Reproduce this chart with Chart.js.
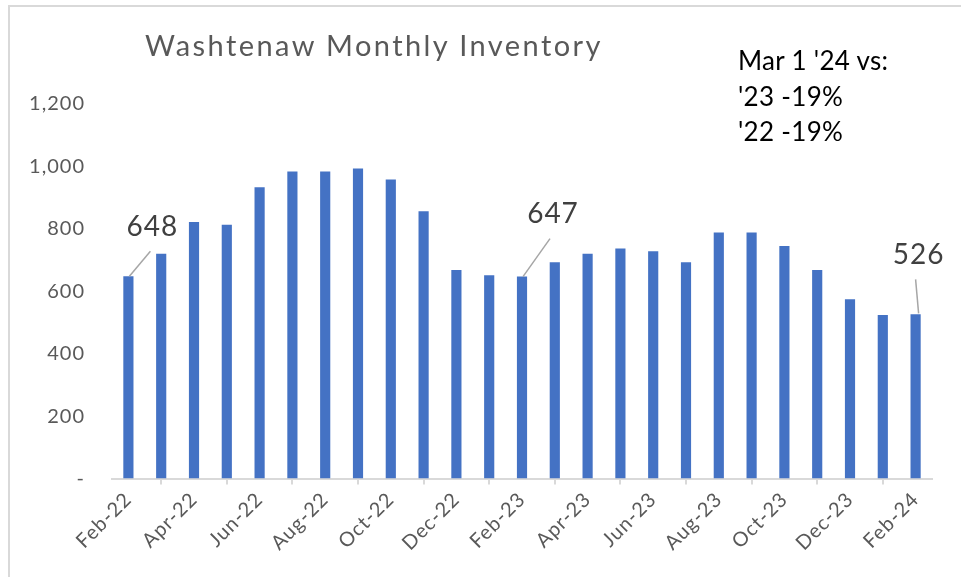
<!DOCTYPE html>
<html>
<head>
<meta charset="utf-8">
<script src="https://cdn.jsdelivr.net/npm/chart.js@4/dist/chart.umd.min.js"></script>
<style>
  html, body { margin: 0; padding: 0; background: #fff; }
  #wrap { position: relative; width: 961px; height: 577px; overflow: hidden; }
  #frame { position: absolute; left: 8px; top: 5px; width: 1000px; height: 700px;
           border-top: 2px solid #d9d9d9; border-left: 2px solid #d9d9d9; box-sizing: border-box; }
  canvas { position: absolute; left: 0; top: 0; }
  .txt { position: absolute; font-family: Lato, "Open Sans", sans-serif; white-space: nowrap; }
  #title { left: 145px; top: 27px; font-size: 29px; color: #595959; letter-spacing: 2.4px; }
  #note { left: 738px; top: 43px; font-size: 26px; color: #000; line-height: 35.5px; letter-spacing: 0.3px; }
</style>
</head>
<body>
<div id="wrap">
  <div id="frame"></div>
  <canvas id="c" width="961" height="577"></canvas>
  <div class="txt" id="title">Washtenaw Monthly Inventory</div>
  <div class="txt" id="note">Mar 1 '24 vs:<br>'23 -19%<br>'22 -19%</div>
</div>
<script>
const months = ["Feb-22","Mar-22","Apr-22","May-22","Jun-22","Jul-22","Aug-22","Sep-22","Oct-22","Nov-22","Dec-22","Jan-23",
                "Feb-23","Mar-23","Apr-23","May-23","Jun-23","Jul-23","Aug-23","Sep-23","Oct-23","Nov-23","Dec-23","Jan-24","Feb-24"];
const inventory = [648, 720, 822, 813, 933, 984, 984, 993, 958, 856, 668, 651,
                   647, 693, 720, 737, 728, 693, 788, 788, 745, 668, 574, 524, 526];
const yTicks = [0, 200, 400, 600, 800, 1000, 1200];
const labeledIdx = [0, 12, 24];

// label/leader styling offsets (pixels relative to bar top)
const calloutStyle = {
  0:  { tx: 24, ty: -40, l0x: 1, l0y: 0, l1x: 22, l1y: -25 },
  12: { tx: 31, ty: -54, l0x: 1, l0y: 0, l1x: 28, l1y: -38 },
  24: { tx: 3,  ty: -50, l0x: 3, l0y: -1, l1x: 0, l1y: -35 }
};

const spacing = {
  id: 'spacing',
  beforeDraw(chart) { chart.ctx.letterSpacing = '1px'; },
  afterDraw(chart) { chart.ctx.letterSpacing = '0px'; }
};

const callouts = {
  id: 'callouts',
  afterDatasetsDraw(chart) {
    const ctx = chart.ctx;
    const meta = chart.getDatasetMeta(0);
    ctx.save();
    labeledIdx.forEach(i => {
      const el = meta.data[i];
      const s = calloutStyle[i];
      const x = el.x, y = el.y;
      ctx.strokeStyle = '#a6a6a6';
      ctx.lineWidth = 1.5;
      ctx.beginPath();
      ctx.moveTo(x + s.l0x, y + s.l0y);
      ctx.lineTo(x + s.l1x, y + s.l1y);
      ctx.stroke();
      ctx.fillStyle = '#404040';
      ctx.font = '28px Lato, "Open Sans", sans-serif';
      ctx.textAlign = 'center';
      ctx.textBaseline = 'alphabetic';
      ctx.fillText(String(inventory[i]), x + s.tx, y + s.ty);
    });
    ctx.restore();
  }
};

new Chart(document.getElementById('c'), {
  type: 'bar',
  data: {
    labels: months,
    datasets: [{
      data: inventory,
      backgroundColor: '#4472C4',
      borderWidth: 0,
      categoryPercentage: 1.0,
      barPercentage: 0.31
    }]
  },
  options: {
    responsive: false,
    animation: false,
    events: [],
    layout: { padding: { left: 0, right: 29, top: 104, bottom: 0 } },
    plugins: { legend: { display: false }, tooltip: { enabled: false }, title: { display: false } },
    scales: {
      x: {
        offset: true,
        afterFit(scale) { scale.height = 98.5; },
        grid: {
          offset: true,
          drawOnChartArea: false,
          drawTicks: true,
          tickLength: 6,
          color: '#d9d9d9',
          lineWidth: 2
        },
        border: { display: true, color: '#d9d9d9', width: 2 },
        ticks: {
          autoSkip: false,
          maxRotation: 45,
          minRotation: 45,
          padding: 3,
          color: '#595959',
          font: { family: 'Lato, "Open Sans", sans-serif', size: 20 },
          callback(v, i) { return i % 2 === 0 ? months[i] : null; }
        }
      },
      y: {
        min: 0,
        max: 1200,
        afterFit(scale) { scale.width = 112; },
        afterBuildTicks(scale) { scale.ticks = yTicks.map(v => ({ value: v })); },
        grid: { display: false },
        border: { display: false },
        ticks: {
          padding: 19,
          color: '#595959',
          font: { family: 'Lato, "Open Sans", sans-serif', size: 20 },
          callback(v) { return v === 0 ? '-' : v.toLocaleString('en-US'); }
        }
      }
    }
  },
  plugins: [spacing, callouts]
});
</script>
</body>
</html>
